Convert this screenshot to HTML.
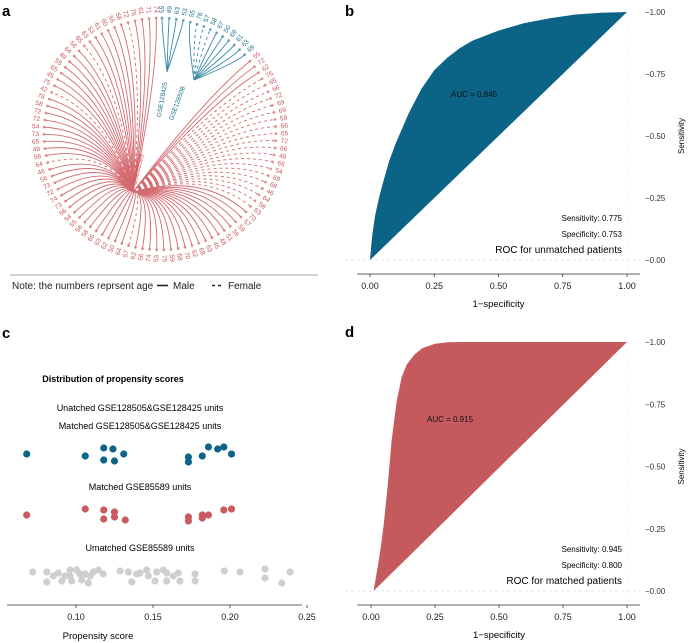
<!DOCTYPE html>
<html><head><meta charset="utf-8"><style>
body{margin:0;background:#fff;}
svg{display:block;font-family:"Liberation Sans",sans-serif;}
</style></head><body>
<svg id="fig" width="688" height="643" viewBox="0 0 688 643">
<g id="pa">
<text x="2" y="16" font-size="15" font-weight="bold">a</text>
<g id="dendro"></g>
<line x1="10" y1="275" x2="318" y2="275" stroke="#888" stroke-width="0.8"/>
<text x="12" y="289" font-size="10" fill="#222">Note: the numbers reprsent age</text>
<line x1="157" y1="285.5" x2="168" y2="285.5" stroke="#222" stroke-width="1.6"/>
<text x="173" y="289" font-size="10" fill="#222">Male</text>
<line x1="212" y1="285.5" x2="223" y2="285.5" stroke="#222" stroke-width="1.4" stroke-dasharray="3,3"/>
<text x="228" y="289" font-size="10" fill="#222">Female</text>
</g>
<g id="pb"></g>
<g id="pd"></g>
<g id="pc">
<text x="2" y="338" font-size="15" font-weight="bold">c</text>
<text x="113" y="382" font-size="9" font-weight="bold" text-anchor="middle">Distribution of propensity scores</text>
<text x="140" y="411" font-size="9" text-anchor="middle">Unatched GSE128505&amp;GSE128425 units</text>
<text x="140" y="429" font-size="9" text-anchor="middle">Matched GSE128505&amp;GSE128425 units</text>
<text x="140" y="490" font-size="9" text-anchor="middle">Matched GSE85589 units</text>
<text x="140" y="551" font-size="9" text-anchor="middle">Umatched GSE85589 units</text>
<line x1="7" y1="605" x2="302" y2="605" stroke="#333" stroke-width="0.8"/>
<text x="98" y="639" font-size="9.5" text-anchor="middle">Propensity score</text>
<g id="cdots"></g>
</g>
</svg>
<script>
// ===== Panel c data =====
const cTicks=[0.10,0.15,0.20,0.25];
const blueVals=[0.068,0.106,0.118,0.118,0.124,0.125,0.131,0.173,0.173,0.182,0.186,0.192,0.196,0.201];
const blueJit=[0,2,-6,6,-5,7,0,3,8,2,-7,-5,-7,0];
const redVals=[0.068,0.106,0.118,0.118,0.125,0.125,0.132,0.173,0.173,0.182,0.182,0.186,0.196,0.201];
const redJit=[0,-6,-5,4,-3,2,5,2,6,0,3,0,-5,-6];
const greyVals=[0.0719,0.081,0.081,0.0853,0.0885,0.0907,0.0929,0.0961,0.0961,0.0972,0.1004,0.1026,0.1037,0.1058,0.108,0.1091,0.1112,0.1145,0.1177,0.1286,0.134,0.1362,0.1394,0.1416,0.1459,0.147,0.1513,0.1524,0.1567,0.1589,0.1589,0.1632,0.1664,0.1675,0.1773,0.1773,0.1963,0.2065,0.2227,0.2227,0.2336,0.239];
const greyJit=[-4,-4,6,0,-3,5,0,-6,0,5,-6,-2,4,-2,7,0,-4,-6,-2,-5,-4,6,-2,-3,-6,0,5,-4,-6,-3,5,0,-3,5,-2,5,-5,-4,-7,2,7,-4];
// ===== ROC data =====
const rocBx=[0,0.005,0.01,0.02,0.035,0.05,0.075,0.1,0.15,0.2,0.25,0.3,0.35,0.4,0.5,0.6,0.7,0.8,0.9,1];
const rocBy=[0,0.06,0.11,0.18,0.25,0.31,0.4,0.47,0.59,0.69,0.765,0.815,0.855,0.885,0.925,0.955,0.975,0.99,0.997,1];
const rocDx=[0.01,0.02,0.03,0.04,0.05,0.065,0.08,0.1,0.12,0.14,0.17,0.2,0.25,0.3,0.35,1];
const rocDy=[0,0.06,0.12,0.19,0.27,0.42,0.6,0.76,0.86,0.91,0.95,0.975,0.993,0.999,1,1];
const rocTicks=[0,0.25,0.5,0.75,1];
const rocTickLabels=["0.00","0.25","0.50","0.75","1.00"];
// ===== Dendrogram data =====
const blue1Ages=[55,49,63,53];
const blue2Ages=[55,76,57,58,67,50,69,61,63,69];
const blue2Sex="MFFFMMMMMM";
const redAges=[55,72,62,76,65,66,72,69,69,59,66,65,72,66,48,65,54,69,68,46,64,58,63,70,57,59,56,51,48,45,63,68,62,70,68,59,75,53,74,56,62,57,64,50,62,63,65,58,56,55,54,56,73,74,72,73,56,46,64,58,49,65,73,54,72,72,58,76,42,75,45,65,55,49,64,56,65,63,53,61,60,56,58,72,76,61,71,74];
const redSex="MMMFFFFFFFFFFFFFFFFFFFFMMMMMMMMMMMMMMMMMMFMMMMMMMMMMMMMMMMFMMMMMMMMMFMMMMMMMFMMMMMMFMMMM";

const NS="http://www.w3.org/2000/svg";
function mk(parent,tag,attrs){const e=document.createElementNS(NS,tag);for(const k in attrs)e.setAttribute(k,attrs[k]);parent.appendChild(e);return e;}

// Panel c
(function(){
  const g=document.getElementById('cdots');
  const xs=v=>76+(v-0.10)*1540;
  cTicks.forEach(t=>{
    const l=mk(g,'line',{x1:xs(t),y1:605,x2:xs(t),y2:608,stroke:'#333','stroke-width':0.8});
    
    
    const tx=mk(g,'text',{x:xs(t),y:620,'font-size':9,'text-anchor':'middle',fill:'#222'});
    tx.textContent=t.toFixed(2);
    
    
  });
  function row(vals,jit,cy,col,name){
    vals.forEach((v,i)=>{
      const c=mk(g,'circle',{cx:xs(v),cy:cy+jit[i],r:3.6,fill:col});
      
      
    });
  }
  row(greyVals,greyJit,576,'#cfcfcf','point-unmatched-gse85589');
  row(blueVals,blueJit,454,'#0e6488','point-matched-gse128');
  row(redVals,redJit,515,'#c95a60','point-matched-gse85589');
})();

// ROC panels
function roc(gid,lab,ly,xs0,xs1,y1,y0,axY,fx,fy,col,auc,aucX,aucY,sens,spec,title){
  const g=document.getElementById(gid);
  const X=v=>xs0+(xs1-xs0)*v, Y=v=>y0-(y0-y1)*v;
  const t=mk(g,'text',{x:345,y:ly,'font-size':15,'font-weight':'bold'});t.textContent=lab;
  
  
  const gl=mk(g,'line',{x1:345,y1:y0,x2:640,y2:y0,stroke:'#ddd','stroke-width':0.7,'stroke-dasharray':'3,3'});
  
  
  const gv=mk(g,'line',{x1:X(1),y1:y1,x2:X(1),y2:axY,stroke:'#eee','stroke-width':0.7,'stroke-dasharray':'3,3'});
  
  
  let d='M'+X(fx[0])+','+Y(fy[0]);
  for(let i=1;i<fx.length;i++) d+=' L'+X(fx[i])+','+Y(fy[i]);
  d+=' L'+X(fx[0])+','+Y(fy[0])+'Z';
  const a=mk(g,'path',{d:d,fill:col,'stroke-linejoin':'round'});
  
  
  const ax=mk(g,'line',{x1:357,y1:axY,x2:640,y2:axY,stroke:'#333','stroke-width':0.8});
  
  
  rocTicks.forEach((v,i)=>{
    const tk=mk(g,'line',{x1:X(v),y1:axY,x2:X(v),y2:axY+3,stroke:'#333','stroke-width':0.8});
    
    
    const tl=mk(g,'text',{x:X(v),y:axY+15,'font-size':9,'text-anchor':'middle',fill:'#222'});
    tl.textContent=rocTickLabels[i];
    
    
    const yl=mk(g,'text',{x:645,y:Y(v)+3,'font-size':8,fill:'#333'});
    yl.textContent='\u2212'+rocTickLabels[i];
    
    
  });
  const xt=mk(g,'text',{x:(xs0+xs1)/2,y:axY+33,'font-size':9.5,'text-anchor':'middle'});xt.textContent='1\u2212specificity';
  
  
  const yt=mk(g,'text',{x:0,y:0,'font-size':8,'text-anchor':'middle',transform:'translate(684,'+((y0+y1)/2)+') rotate(-90)'});yt.textContent='Sensitivity';
  
  
  const at=mk(g,'text',{x:aucX,y:aucY,'font-size':8,'text-anchor':'middle',fill:'#111'});at.textContent='AUC = '+auc;
  
  
  const s1=mk(g,'text',{x:622,y:y0-39,'font-size':8,'text-anchor':'end'});s1.textContent='Sensitivity: '+sens;
  
  
  const s2=mk(g,'text',{x:622,y:y0-23,'font-size':8,'text-anchor':'end'});s2.textContent='Specificity: '+spec;
  
  
  const s3=mk(g,'text',{x:622,y:y0-7,'font-size':10,'text-anchor':'end'});s3.textContent=title;
  
  
}
roc('pb','b',16,370,627,12,260,274,rocBx,rocBy,'#0b6385','0.845',474,97,'0.775','0.753','ROC for unmatched patients');
roc('pd','d',337,371,627,342,591,605,rocDx,rocDy,'#c45a5e','0.915',450,422,'0.945','0.800','ROC for matched patients');

// Dendrogram
(function(){
  const g=document.getElementById('dendro');
  const cx=160,cy=134,R=116,RL=121;
  const step=3.53;
  const leaves=[];
  blue1Ages.forEach((a,i)=>leaves.push({age:a,ang:-89+i*step,hub:[167,72],col:'#3a8aa8',tcol:'#1a7090',f:false,k:0.9}));
  blue2Ages.forEach((a,i)=>leaves.push({age:a,ang:-89+(4+i)*step,hub:[194,80],col:'#3a8aa8',tcol:'#1a7090',f:blue2Sex[i]==='F',k:0.9}));
  redAges.forEach((a,i)=>leaves.push({age:a,ang:-39+i*step,hub:[133,192],col:'#d46a70',tcol:'#c8545b',f:redSex[i]==='F',k:0.5}));
  leaves.forEach(L=>{
    const r=L.ang*Math.PI/180, dx=Math.cos(r), dy=Math.sin(r);
    const px=cx+R*dx, py=cy+R*dy;
    const h=L.hub;
    const c2x=cx+R*L.k*dx, c2y=cy+R*L.k*dy;
    const p=mk(g,'path',{d:`M${h[0]},${h[1]} Q${c2x},${c2y} ${px},${py}`,fill:'none',stroke:L.col,'stroke-width':0.9,'stroke-dasharray':L.f?'3,3':'none'});
    
    
    const c=mk(g,'circle',{cx:px,cy:py,r:1.4,fill:L.col,opacity:0.7});
    
    
    let a=L.ang, anchor='start', tx=cx+RL*dx, ty=cy+RL*dy;
    let na=((a%360)+360)%360;
    if(na>90&&na<270){a+=180;anchor='end';}
    const t=mk(g,'text',{x:tx,y:ty,'font-size':6.5,fill:L.tcol,'text-anchor':anchor,'dominant-baseline':'middle',transform:`rotate(${a} ${tx} ${ty})`});
    t.textContent=L.age;
    
    
  });
  const hubs=[['GSE128425',164,100,-80,'#1a7090'],['GSE128508',179,104,-70,'#1a7090'],['GSE85589',140,170,-75,'#c8545b']];
  hubs.forEach(hh=>{
    const t=mk(g,'text',{x:hh[1],y:hh[2],'font-size':6.5,fill:hh[4],'text-anchor':'middle',transform:`rotate(${hh[3]} ${hh[1]} ${hh[2]})`});
    t.textContent=hh[0];
    
    
  });
})();
</script>
</body></html>
